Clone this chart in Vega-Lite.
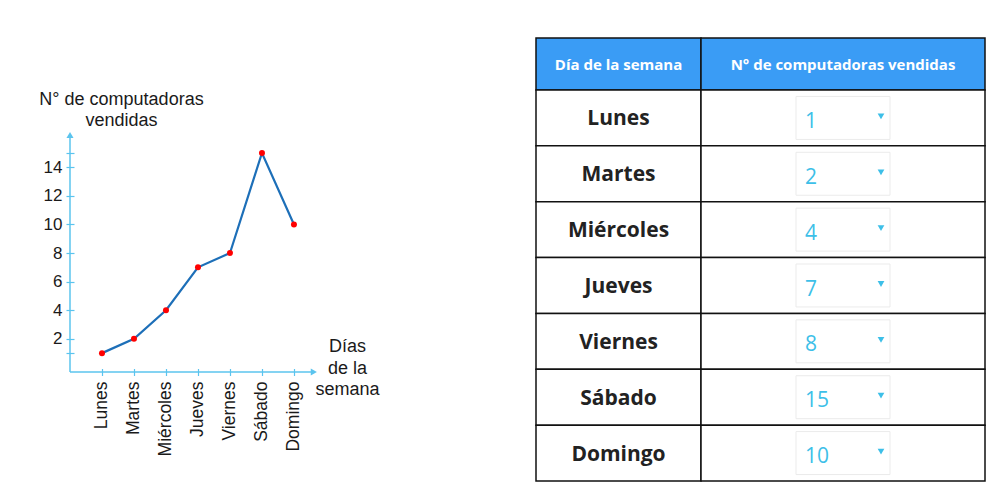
{
  "$schema": "https://vega.github.io/schema/vega-lite/v6.json",
  "padding": {"left": 38, "top": 37, "right": 5, "bottom": 5},
  "background": "white",
  "bounds": "flush",
  "spacing": 219,
  "config": {"view": {"stroke": null}, "font": "Liberation Sans"},
  "datasets": {
    "ventas": [
      {"dia": "Lunes", "orden": 1, "computadoras": 1},
      {"dia": "Martes", "orden": 2, "computadoras": 2},
      {"dia": "Miércoles", "orden": 3, "computadoras": 4},
      {"dia": "Jueves", "orden": 4, "computadoras": 7},
      {"dia": "Viernes", "orden": 5, "computadoras": 8},
      {"dia": "Sábado", "orden": 6, "computadoras": 15},
      {"dia": "Domingo", "orden": 7, "computadoras": 10}
    ]
  },
  "hconcat": [
    {
      "width": 247,
      "height": 334,
      "data": {"name": "ventas"},
      "layer": [
        {
          "mark": {"type": "line", "color": "#1d6fb8", "strokeWidth": 2.2},
          "encoding": {
            "x": {"field": "orden", "type": "quantitative", "scale": {"domain": [0, 7.72], "nice": false, "zero": false},
              "axis": {
                "values": [1, 2, 3, 4, 5, 6, 7],
                "labelExpr": "['','Lunes','Martes','Miércoles','Jueves','Viernes','Sábado','Domingo'][datum.value]",
                "labelAngle": 270, "labelFlush": false, "labelFontSize": 17.5, "labelColor": "#1a1a1a", "labelPadding": 5.5,
                "domain": false, "offset": -3.5, "tickColor": "#5bc4ee", "tickSize": 7, "tickWidth": 1.2, "grid": false,
                "title": ["Días", "de la", "semana"], "titleX": 277, "titleY": -17, "titleAlign": "center", "titleBaseline": "alphabetic",
                "titleAngle": 0, "titleFontSize": 18, "titleFontWeight": "normal", "titleLineHeight": 21.5, "titleColor": "#1a1a1a"
              }},
            "y": {"field": "computadoras", "type": "quantitative", "scale": {"domain": [-0.32, 23.04], "nice": false, "zero": false},
              "axis": {
                "values": [1, 2, 4, 6, 8, 10, 12, 14, 15],
                "labelExpr": "datum.value % 2 == 0 ? datum.label : ''",
                "domain": false, "offset": -4, "grid": false, "tickColor": "#5bc4ee", "tickSize": 8, "tickWidth": 1.2,
                "labelFontSize": 17, "labelColor": "#1a1a1a", "labelPadding": 4, "labelFlush": false,
                "title": ["N° de computadoras", "vendidas"], "titleAngle": 0, "titleX": 47, "titleY": 66.5,
                "titleAlign": "center", "titleBaseline": "alphabetic", "titleFontSize": 18, "titleFontWeight": "normal",
                "titleColor": "#1a1a1a", "titleLineHeight": 21
              }}
          }
        },
        {
          "data": {"values": [{}]},
          "mark": {"type": "rule", "color": "#5bc4ee", "strokeWidth": 1.5},
          "encoding": {
            "x": {"datum": 0, "type": "quantitative"},
            "y": {"datum": -0.32, "type": "quantitative"},
            "y2": {"datum": 16.26}
          }
        },
        {
          "data": {"values": [{}]},
          "mark": {"type": "rule", "color": "#5bc4ee", "strokeWidth": 1.5},
          "encoding": {
            "x": {"datum": 0, "type": "quantitative"},
            "x2": {"datum": 7.62},
            "y": {"datum": -0.32, "type": "quantitative"}
          }
        },
        {
          "data": {"values": [{}]},
          "mark": {"type": "point", "shape": "triangle-up", "size": 50, "filled": true, "color": "#5bc4ee", "opacity": 1},
          "encoding": {"x": {"datum": 0, "type": "quantitative"}, "y": {"datum": 16.26, "type": "quantitative"}}
        },
        {
          "data": {"values": [{}]},
          "mark": {"type": "point", "shape": "triangle-right", "size": 50, "filled": true, "color": "#5bc4ee", "opacity": 1},
          "encoding": {"x": {"datum": 7.62, "type": "quantitative"}, "y": {"datum": -0.32, "type": "quantitative"}}
        },
        {
          "mark": {"type": "point", "filled": true, "color": "#ff0000", "size": 36, "opacity": 1},
          "encoding": {
            "x": {"field": "orden", "type": "quantitative"},
            "y": {"field": "computadoras", "type": "quantitative"}
          }
        }
      ]
    },
    {
      "spacing": 0,
      "bounds": "flush",
      "hconcat": [
        {
          "width": 165, "height": 443,
          "resolve": {"scale": {"y": "independent"}},
          "layer": [
            {
              "data": {"values": [{"encabezado": "Día de la semana"}]},
              "encoding": {
                "y": {"field": "encabezado", "type": "nominal", "axis": null, "scale": {"range": [0, 52], "paddingInner": 0, "paddingOuter": 0}}
              },
              "layer": [
                {"mark": {"type": "rect", "fill": "#3a9cf5", "stroke": "#111111", "strokeWidth": 1.5}},
                {"mark": {"type": "text", "font": "Open Sans", "fontSize": 15, "fontWeight": "bold", "color": "white", "baseline": "alphabetic", "dy": 6},
                  "encoding": {"text": {"field": "encabezado"}}}
              ]
            },
            {
              "data": {"name": "ventas"},
              "encoding": {
                "y": {"field": "dia", "type": "nominal", "sort": null, "axis": null, "scale": {"range": [52, 443], "paddingInner": 0, "paddingOuter": 0}}
              },
              "layer": [
                {"mark": {"type": "rect", "fill": "white", "stroke": "#111111", "strokeWidth": 1.5}},
                {"mark": {"type": "text", "font": "Open Sans", "fontSize": 21, "fontWeight": "bold", "color": "#222222", "baseline": "alphabetic", "dy": 7.5},
                  "encoding": {"text": {"field": "dia"}}}
              ]
            }
          ]
        },
        {
          "width": 284, "height": 443,
          "resolve": {"scale": {"y": "independent"}},
          "layer": [
            {
              "data": {"values": [{"encabezado": "N° de computadoras vendidas"}]},
              "encoding": {
                "y": {"field": "encabezado", "type": "nominal", "axis": null, "scale": {"range": [0, 52], "paddingInner": 0, "paddingOuter": 0}}
              },
              "layer": [
                {"mark": {"type": "rect", "fill": "#3a9cf5", "stroke": "#111111", "strokeWidth": 1.5}},
                {"mark": {"type": "text", "font": "Open Sans", "fontSize": 15, "fontWeight": "bold", "color": "white", "baseline": "alphabetic", "dy": 6},
                  "encoding": {"text": {"field": "encabezado"}}}
              ]
            },
            {
              "data": {"name": "ventas"},
              "encoding": {
                "y": {"field": "dia", "type": "nominal", "sort": null, "axis": null, "scale": {"range": [52, 443], "paddingInner": 0, "paddingOuter": 0}}
              },
              "layer": [
                {"mark": {"type": "rect", "fill": "white", "stroke": "#111111", "strokeWidth": 1.5}},
                {"mark": {"type": "point", "shape": "M-1,-0.457L1,-0.457L1,0.457L-1,0.457Z", "size": 8836, "filled": false, "stroke": "#ebebeb", "strokeWidth": 1, "opacity": 1}},
                {"mark": {"type": "text", "font": "Open Sans", "fontSize": 21, "color": "#3dbfe8", "align": "left", "baseline": "alphabetic", "dx": -38, "dy": 10},
                  "encoding": {"text": {"field": "computadoras", "type": "quantitative"}}},
                {"mark": {"type": "point", "shape": "triangle-down", "size": 45, "filled": true, "color": "#3dbfe8", "opacity": 1, "xOffset": 38, "yOffset": -1.5}}
              ]
            }
          ]
        }
      ]
    }
  ]
}
